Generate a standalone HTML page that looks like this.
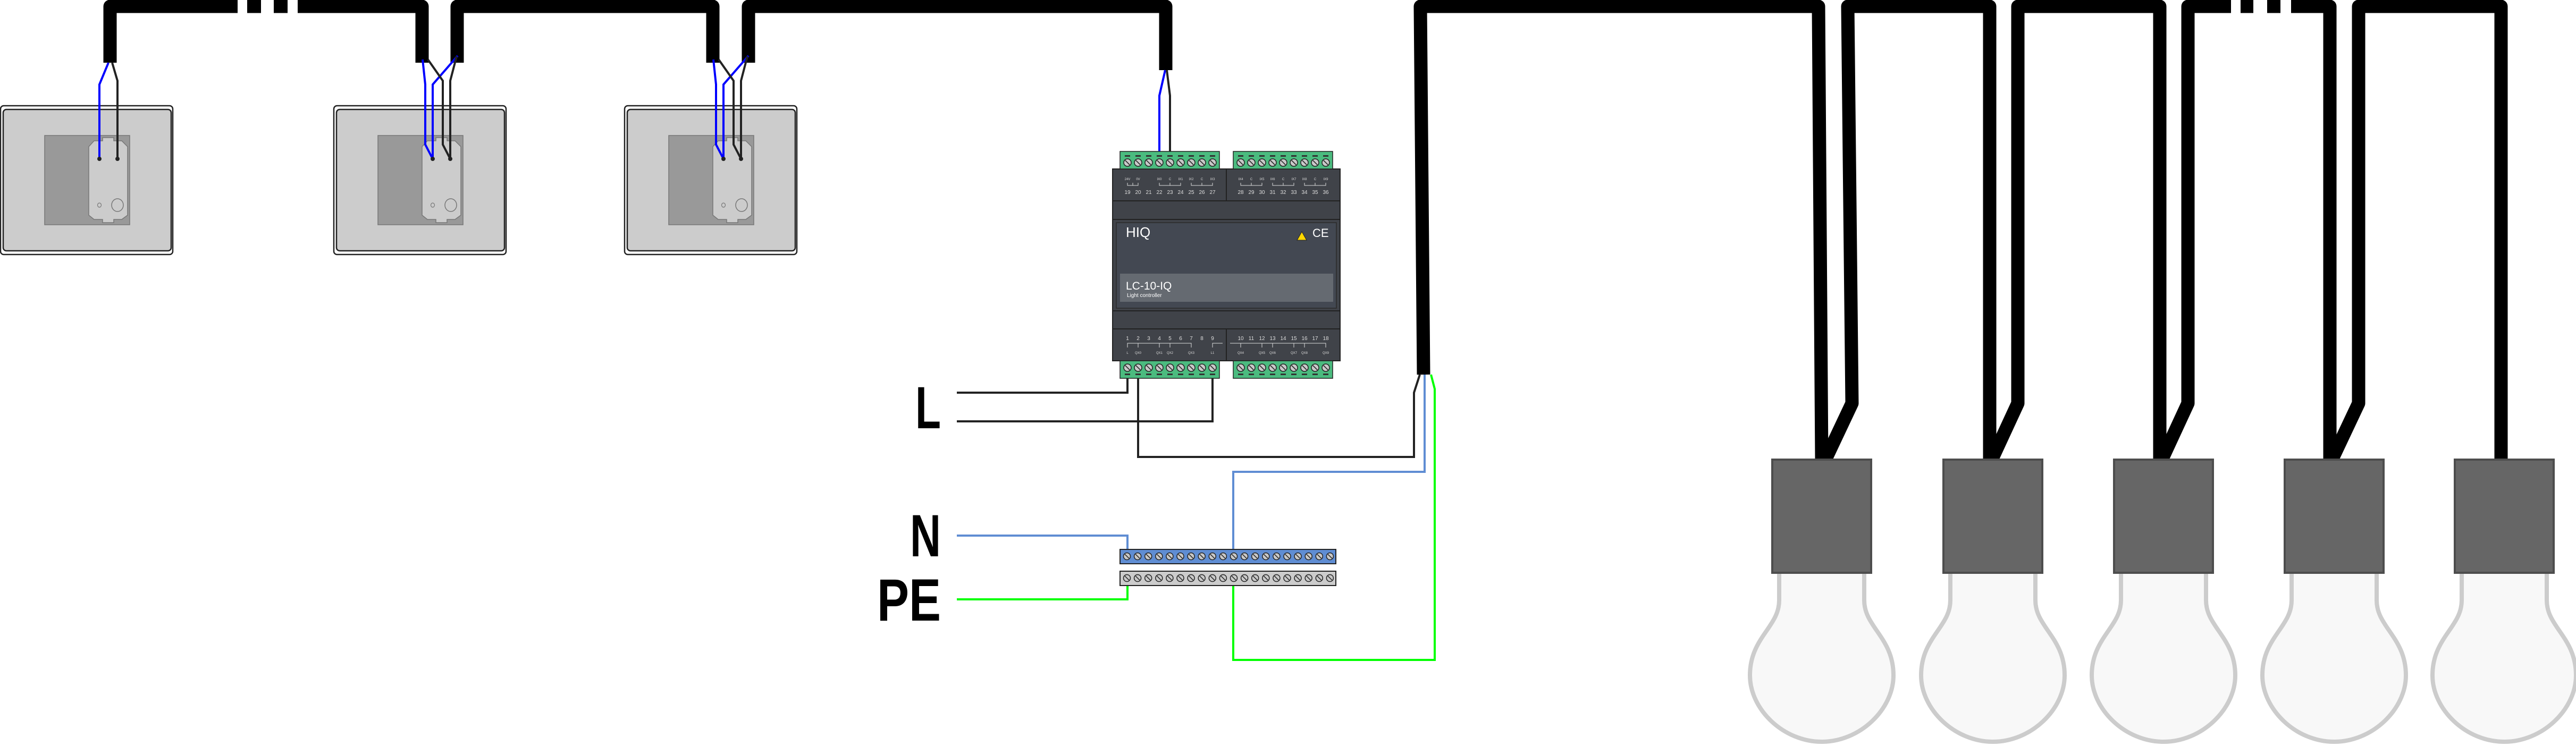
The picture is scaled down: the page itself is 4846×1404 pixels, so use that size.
<!DOCTYPE html>
<html><head><meta charset="utf-8"><style>
html,body{margin:0;padding:0;background:#fff;width:4846px;height:1404px;overflow:hidden}
svg{display:block}
</style></head><body>
<svg id="s" width="4846" height="1404" viewBox="0 0 4846 1404" xmlns="http://www.w3.org/2000/svg" font-family="Liberation Sans, sans-serif">
<defs>
<g id="plate">
  <rect x="1" y="199" width="324" height="280" rx="6" fill="#fff" stroke="#222" stroke-width="2.5"/>
  <rect x="6" y="206" width="316" height="266" rx="6" fill="#ccc" stroke="#222" stroke-width="2.5"/>
  <rect x="84" y="255" width="160" height="168" fill="#999" stroke="#777" stroke-width="1.5"/>
  <path d="M177,265 L193,265 L193,259 L214,259 L214,265 L229,265 L240,276 L240,405 L229,413 L214,413 L214,419 L193,419 L193,413 L177,413 L167,405 L167,276 Z" fill="#ccc" stroke="#777" stroke-width="1.5"/>
  <ellipse cx="187" cy="386" rx="3.5" ry="4" fill="none" stroke="#777" stroke-width="1.2"/>
  <ellipse cx="221" cy="386" rx="11" ry="12" fill="none" stroke="#777" stroke-width="1.5"/>
</g>
<g id="bulb">
  <path d="M-80,1078 L-80,1130 C-80,1180 -135,1200 -135,1271 C-135,1335 -72,1396 0,1396 C72,1396 135,1335 135,1271 C135,1200 80,1180 80,1130 L80,1078" fill="#f8f8f8" stroke="#ccc" stroke-width="8"/>
  <rect x="-93" y="865" width="186" height="213" fill="#666" stroke="#4d4d4d" stroke-width="4"/>
</g>
</defs>

<use href="#plate" x="0" y="0"/>
<use href="#plate" x="627" y="0"/>
<use href="#plate" x="1174" y="0"/>

<g fill="none" stroke="#000" stroke-width="25" stroke-linejoin="round">
  <path d="M207,118 L207,12 L447,12"/>
  <path d="M465,12 L491,12 M515,12 L541,12" stroke-linejoin="miter"/>
  <path d="M560,12 L794,12 L794,118"/>
  <path d="M860,118 L860,12 L1341,12 L1341,118"/>
  <path d="M1408,118 L1408,12 L2193,12 L2193,132"/>
</g>
<g fill="none" stroke-width="4">
  <path d="M204,118 L187,159 L187,299" stroke="#0000ff"/>
  <path d="M211,118 L221,152 L221,299" stroke="#222"/>
  <path d="M795,112 L800,159 L800,272 L814,299" stroke="#0000ff"/>
  <path d="M861,105 L814,159 L814,299" stroke="#0000ff"/>
  <path d="M805,112 L833,152 L833,272 L847,299" stroke="#222"/>
  <path d="M859,106 L847,152 L847,299" stroke="#222"/>
  <path d="M1342,112 L1347,159 L1347,272 L1361,299" stroke="#0000ff"/>
  <path d="M1408,105 L1361,159 L1361,299" stroke="#0000ff"/>
  <path d="M1352,112 L1380,152 L1380,272 L1394,299" stroke="#222"/>
  <path d="M1406,106 L1394,152 L1394,299" stroke="#222"/>
  <path d="M2192,132 L2181,180 L2181,286" stroke="#0000ff"/>
  <path d="M2195,132 L2201,180 L2201,286" stroke="#222"/>
</g>
<g fill="#222">
  <circle cx="187" cy="299" r="4"/><circle cx="221" cy="299" r="4"/>
  <circle cx="814" cy="299" r="4"/><circle cx="847" cy="299" r="4"/>
  <circle cx="1361" cy="299" r="4"/><circle cx="1394" cy="299" r="4"/>
</g>

<g id="ctrl">
  <rect x="2093" y="318" width="428" height="361" fill="#404349" stroke="#222" stroke-width="2"/>
  <line x1="2093" y1="378" x2="2521" y2="378" stroke="#222" stroke-width="2"/>
  <line x1="2093" y1="413" x2="2521" y2="413" stroke="#222" stroke-width="2"/>
  <line x1="2093" y1="585" x2="2521" y2="585" stroke="#222" stroke-width="2"/>
  <line x1="2093" y1="619" x2="2521" y2="619" stroke="#222" stroke-width="2"/>
  <line x1="2307" y1="318" x2="2307" y2="378" stroke="#222" stroke-width="2"/>
  <line x1="2307" y1="619" x2="2307" y2="679" stroke="#222" stroke-width="2"/>
  <rect x="2100" y="419" width="414" height="161" fill="#434852" stroke="#2a2a2a" stroke-width="1.5"/>
  <rect x="2107" y="515" width="401" height="53" fill="#656a71"/>
  <text x="2118" y="446" fill="#fff" font-size="26">HIQ</text>
  <path d="M2449,436 L2458,452 L2440,452 Z" fill="#ffd700" stroke="#222" stroke-width="1"/>
  <text x="2469" y="446" fill="#fff" font-size="22">CE</text>
  <text x="2118" y="545" fill="#fff" font-size="21">LC-10-IQ</text>
  <text x="2120" y="559" fill="#fff" font-size="10">Light controller</text>
  <rect x="2107" y="285" width="187" height="33" fill="#4bbb7f" stroke="#222" stroke-width="1.5"/>
  <rect x="2320" y="285" width="187" height="33" fill="#4bbb7f" stroke="#222" stroke-width="1.5"/>
  <rect x="2107" y="679" width="187" height="33" fill="#4bbb7f" stroke="#222" stroke-width="1.5"/>
  <rect x="2320" y="679" width="187" height="33" fill="#4bbb7f" stroke="#222" stroke-width="1.5"/>
  <g id="screws"></g>
  <g fill="#ddd" font-size="10" text-anchor="middle" id="nums"></g>
</g>

<g fill="none" stroke-width="4">
  <path d="M1800,739 L2121,739 L2121,712" stroke="#222"/>
  <path d="M1800,793 L2281,793 L2281,712" stroke="#222"/>
  <path d="M2671,705 L2660,739 L2660,860 L2141,860 L2141,712" stroke="#222"/>
  <path d="M1800,1008 L2121,1008 L2121,1034" stroke="#5f8dd3"/>
  <path d="M2680,705 L2680,888 L2320,888 L2320,1034" stroke="#5f8dd3"/>
  <path d="M1800,1128 L2121,1128 L2121,1102" stroke="#00ff00"/>
  <path d="M2692,705 L2699,732 L2699,1242 L2320,1242 L2320,1102" stroke="#00ff00"/>
</g>
<rect x="2107" y="1034" width="406" height="27" fill="#5f8dd3" stroke="#222" stroke-width="2"/>
<rect x="2107" y="1075" width="406" height="27" fill="#ccc" stroke="#222" stroke-width="2"/>
<g id="bars"></g>
<g font-weight="bold" font-size="112" fill="#000" font-family="Liberation Sans, DejaVu Sans, sans-serif">
  <text x="1722" y="806" textLength="48" lengthAdjust="spacingAndGlyphs">L</text>
  <text x="1712" y="1047" textLength="58" lengthAdjust="spacingAndGlyphs">N</text>
  <text x="1650" y="1168" textLength="120" lengthAdjust="spacingAndGlyphs">PE</text>
</g>

<g fill="none" stroke="#000" stroke-width="25" stroke-linejoin="round">
  <path d="M2678,705 L2672,12 L3421,12 L3427,865"/>
  <path d="M3434,865 L3484,759 L3476,12 L3743,12 L3743,865"/>
  <path d="M3747,865 L3796,759 L3796,12 L4063,12 L4063,865"/>
  <path d="M4067,865 L4116,759 L4116,12 L4197,12"/>
  <path d="M4215,12 L4239,12 M4265,12 L4290,12" stroke-linejoin="miter"/>
  <path d="M4310,12 L4383,12 L4383,865"/>
  <path d="M4387,865 L4437,759 L4437,12 L4705,12 L4705,865"/>
</g>
<use href="#bulb" x="3427" y="0"/>
<use href="#bulb" x="3749" y="0"/>
<use href="#bulb" x="4070" y="0"/>
<use href="#bulb" x="4391" y="0"/>
<use href="#bulb" x="4711" y="0"/>

<script>
(function(){
var NS="http://www.w3.org/2000/svg";
function el(p,t,a,txt){var e=document.createElementNS(NS,t);for(var k in a)e.setAttribute(k,a[k]);if(txt!=null)e.textContent=txt;p.appendChild(e);return e;}
var sg=document.getElementById("screws");
function screw(g,x,y,r){el(g,"circle",{cx:x,cy:y,r:r,fill:"#c8c8c8",stroke:"#222","stroke-width":1.5});el(g,"line",{x1:x-r*0.6,y1:y-r*0.6,x2:x+r*0.6,y2:y+r*0.6,stroke:"#222","stroke-width":1.5});}
[2121,2334].forEach(function(x0){for(var i=0;i<9;i++){var x=x0+i*20;
 screw(sg,x,306,7);el(sg,"rect",{x:x-5,y:292,width:10,height:3,fill:"#333"});
 screw(sg,x,692,7);el(sg,"rect",{x:x-5,y:703,width:10,height:3,fill:"#333"});}});
var ng=document.getElementById("nums");
for(var i=0;i<18;i++){var x=(i<9?2121+i*20:2334+(i-9)*20);
 el(ng,"text",{x:x,y:365},String(19+i));el(ng,"text",{x:x,y:640},String(1+i));}
var tl=["24V","0V","","IX0","C","IX1","IX2","C","IX3","IX4","C","IX5","IX6","C","IX7","IX8","C","IX9"];
var bl=["L","QX0","","QX1","QX2","","QX3","","L1","QX4","","QX5","QX6","","QX7","QX8","","QX9"];
for(var i=0;i<18;i++){var x=(i<9?2121+i*20:2334+(i-9)*20);
 if(tl[i])el(ng,"text",{x:x,y:339,"font-size":6},tl[i]);
 if(bl[i])el(ng,"text",{x:x,y:666,"font-size":6},bl[i]);}
var br=[[2121,2141],[2181,2221],[2241,2281],[2334,2374],[2394,2434],[2454,2494]];
br.forEach(function(b){el(ng,"path",{d:"M"+b[0]+",344 L"+b[0]+",349 L"+b[1]+",349 L"+b[1]+",344 M"+(b[0]+b[1])/2+",349 L"+(b[0]+b[1])/2+",344",fill:"none",stroke:"#ddd","stroke-width":1});});
el(ng,"path",{d:"M2121,654 L2121,646 L2241,646 L2241,654 M2141,646 L2141,654 M2181,646 L2181,654 M2201,646 L2201,654 M2281,654 L2281,646 L2300,646 M2314,646 L2494,646 L2494,654 M2334,646 L2334,654 M2374,646 L2374,654 M2394,646 L2394,654 M2434,646 L2434,654 M2454,646 L2454,654",fill:"none",stroke:"#ddd","stroke-width":1});
var bg=document.getElementById("bars");
for(var i=0;i<20;i++){var x=2120+i*20.1;screw(bg,x,1047,6.5);screw(bg,x,1088,6.5);}
})();
</script>
</svg>
</body></html>
